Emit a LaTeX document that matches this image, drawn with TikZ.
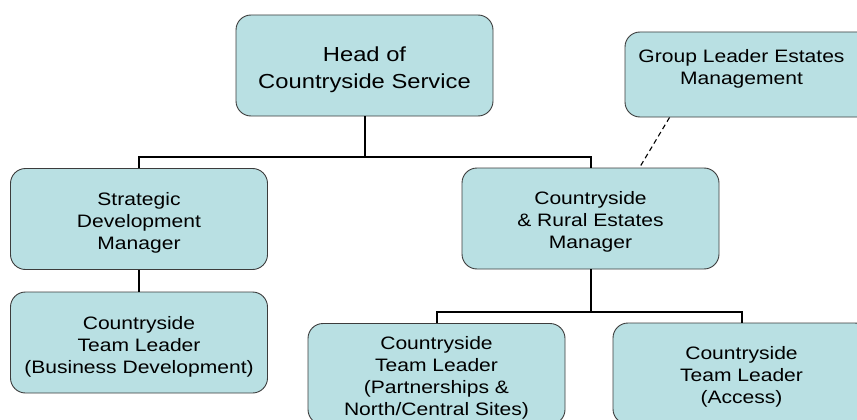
\documentclass[tikz,border=0pt]{standalone}
\usepackage{fontspec}
\setmainfont{Liberation Sans}[FakeStretch=1.17]
\usetikzlibrary{calc}
\definecolor{boxfill}{RGB}{185,224,227}
\definecolor{boxline}{RGB}{60,60,60}
\newcommand{\tstr}[1]{\rule{0pt}{#1}}
\tikzset{
  orgbox/.style={draw=boxline, line width=0.9pt, fill=boxfill, rounded corners=15pt,
    minimum width=257pt, minimum height=101pt, inner sep=0pt, align=center,
    font=\fontsize{18}{22}\selectfont},
  headbox/.style={orgbox, font=\fontsize{20.3}{27}\selectfont},
  link/.style={draw=black, line width=2pt},
  dotlink/.style={draw=black, line width=1.1pt, dash pattern=on 5pt off 3.5pt}
}
\begin{document}
\begin{tikzpicture}[x=1pt,y=-1pt]
\useasboundingbox (0,0) rectangle (857,420);
\clip (0,0) rectangle (857,420);
\fill[white] (0,0) rectangle (857,420);

\node[headbox] (head) at (364.5,65.5) {\tstr{23pt}Head of\\Countryside Service};
\node[orgbox, minimum height=85pt] (group) at (753.5,74.5)
  {\tstr{20pt}\hspace*{-24pt}Group Leader Estates\\\hspace*{-24pt}Management\\~};
\node[orgbox] (strat) at (139,219) {\tstr{20pt}Strategic\\Development\\Manager};
\node[orgbox] (bd) at (139,342.5) {\tstr{21pt}Countryside\\Team Leader\\(Business Development)};
\node[orgbox] (cre) at (590.5,218.5) {\tstr{20pt}Countryside\\\& Rural Estates\\Manager};
\node[orgbox] (part) at (436.5,374) {\tstr{21pt}Countryside\\Team Leader\\(Partnerships \&\\North/Central Sites)};
\node[orgbox] (acc) at (741.5,373.5) {\tstr{20pt}Countryside\\Team Leader\\(Access)};

\coordinate (bus1) at (364.5,157);
\coordinate (bus2) at (590.5,312);
\draw[link] (head.south) -- (bus1);
\draw[link] (bus1) -| (strat.north);
\draw[link] (bus1) -| (cre.north);
\draw[link] (strat.south) -- (bd.north);
\draw[link] (cre.south) -- (bus2);
\draw[link] (bus2) -| (part.north);
\draw[link] (bus2) -| (acc.north);
\draw[dotlink] ([xshift=45pt]group.south west) -- ([xshift=178pt]cre.north west);
\end{tikzpicture}
\end{document}
